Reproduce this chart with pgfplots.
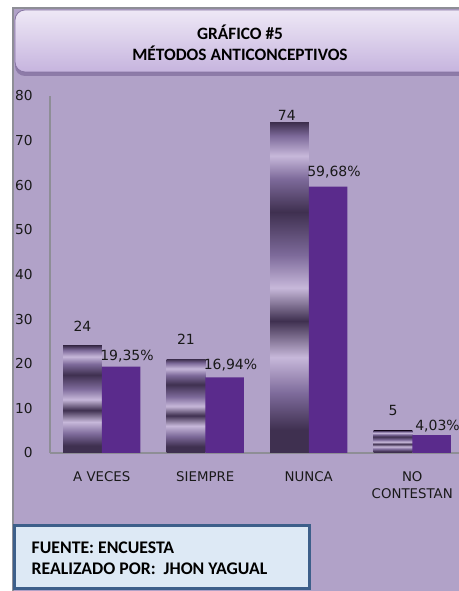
\documentclass[border=0pt]{standalone}
\usepackage{pgfplots}
\pgfplotsset{compat=1.18}
\usepackage{fontspec}
\setmainfont{DejaVu Sans}
\newfontfamily\carlito{Carlito}
\definecolor{bg}{HTML}{B1A2C8}
\definecolor{axgrey}{HTML}{8E8E96}
\definecolor{vio}{HTML}{5A2B8C}
\definecolor{dk}{HTML}{3F3050}
\definecolor{lt}{HTML}{C7B8DA}
\definecolor{md}{HTML}{7D6A9A}
\definecolor{ttop}{HTML}{EEE8F6}
\definecolor{tbot}{HTML}{C6B4DE}
\definecolor{fborder}{HTML}{3D5F8A}
\definecolor{ffill}{HTML}{DDE9F5}
\pgfdeclareverticalshading{metal}{100bp}{color(0bp)=(dk); color(25bp)=(dk); color(28.5bp)=(dk); color(34bp)=(md); color(39.5bp)=(lt); color(45bp)=(dk); color(50bp)=(lt); color(55bp)=(md); color(61.5bp)=(dk); color(66.5bp)=(md); color(70bp)=(lt); color(73bp)=(md); color(75bp)=(dk); color(100bp)=(dk)}
\begin{document}
\begin{tikzpicture}[x=0.75pt,y=0.75pt]
\useasboundingbox (0,0) rectangle (459,591);
% background
\fill[white] (0,0) rectangle (459,591);
\fill[bg] (13,0) rectangle (470,583);
\draw[axgrey, line width=1.2pt] (13,0) -- (13,583) -- (470,583);
% title box
\fill[rounded corners=7.5pt, fill=md!70!bg] (15,515) rectangle (480,579);
\shade[rounded corners=7.5pt, top color=ttop, bottom color=tbot, draw=md!80!bg, line width=0.6pt] (15,519) rectangle (480,581);
\node[font=\carlito\bfseries\fontsize{13}{15.5}\selectfont, align=center, text=black] at (240,548) {GRÁFICO \#5\\MÉTODOS ANTICONCEPTIVOS};
\begin{axis}[
  at={(37.5pt,103.5pt)}, anchor=south west,
  scale only axis, width=310.5pt, height=267.75pt,
  ymin=0, ymax=80, xmin=-0.5, xmax=3.5,
  ytick={0,10,...,80}, xtick={0,1,2,3},
  xticklabels={A VECES, SIEMPRE, NUNCA, NO\\CONTESTAN},
  /pgf/number format/assume math mode=true,
  xticklabel style={align=center, font=\fontsize{10}{13}\selectfont, yshift=-10.5pt, text=black!90},
  yticklabel style={font=\fontsize{10.3}{12}\selectfont, xshift=-9.5pt, text=black!90},
  major tick length=0pt,
  axis x line*=bottom, axis y line*=left,
  axis line style={draw=axgrey, line width=1.1pt, -},
  ybar, bar width=28.9pt,
  every node near coord/.append style={font=\fontsize{10.5}{12}\selectfont, text=black!90},
  clip=false,
]
\addplot[ybar, bar shift=-14.45pt, draw=none, shading=metal, nodes near coords, every node near coord/.append style={yshift=7.5pt}] coordinates {(0,24)};
\addplot[ybar, bar shift=-14.45pt, draw=none, shading=metal, nodes near coords, every node near coord/.append style={yshift=7.5pt}] coordinates {(1,21)};
\addplot[ybar, bar shift=-14.45pt, draw=none, shading=metal, nodes near coords, every node near coord/.append style={yshift=-1.5pt, xshift=-2pt}] coordinates {(2,74)};
\addplot[ybar, bar shift=-14.45pt, draw=none, shading=metal, nodes near coords, every node near coord/.append style={yshift=8pt}] coordinates {(3,5)};
\addplot[ybar, bar shift=14.45pt, fill=vio, draw=none, point meta=explicit symbolic, nodes near coords,
  visualization depends on={value \thisrow{dy} \as \dy},
  every node near coord/.append style={yshift=\dy pt, xshift=4.5pt}]
  table[x=x, y=y, meta=lab] {
x y lab dy
0 19.35 19,35\% 0
1 16.94 16,94\% 1.5
2 59.68 59,68\% 3
3 4.03 4,03\% -1
};
\end{axis}
% footer box
\draw[fborder, line width=2.25pt, fill=ffill] (14,2) rectangle (309,65);
\node[anchor=west, font=\carlito\bfseries\fontsize{13.3}{15.5}\selectfont, align=left, text=black] at (27,33) {FUENTE: ENCUESTA\\REALIZADO POR:\ \ JHON YAGUAL};
\end{tikzpicture}
\end{document}
